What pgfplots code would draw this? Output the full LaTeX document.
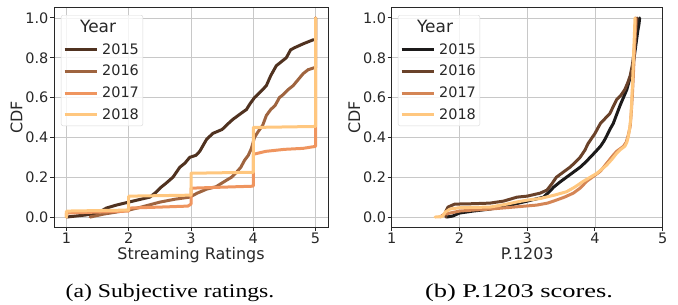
\documentclass[border=0pt]{standalone}
\usepackage{fontspec}
\setmainfont{DejaVu Sans}
\newfontfamily\capfont{Liberation Serif}
\usepackage{pgfplots}
\pgfplotsset{compat=1.18}

\definecolor{cA}{RGB}{80,50,32}
\definecolor{cB}{RGB}{159,100,63}
\definecolor{cC}{RGB}{239,149,95}
\definecolor{cD}{RGB}{255,199,127}
\definecolor{dA}{RGB}{28,26,26}
\definecolor{dB}{RGB}{106,66,42}
\definecolor{dC}{RGB}{212,133,85}
\definecolor{dD}{RGB}{255,199,127}
\definecolor{gridc}{RGB}{200,200,200}
\definecolor{spinec}{RGB}{40,40,40}

\pgfplotsset{mystyle/.style={
  scale only axis, height=219bp,
  ymin=-0.05, ymax=1.05, ytick={0,0.2,0.4,0.6,0.8,1.0},
  yticklabel style={/pgf/number format/.cd, fixed, fixed zerofill, precision=1},
  /pgf/number format/assume math mode=true,
  grid=major, grid style={color=gridc, line width=0.9bp},
  axis line style={line width=1bp, color=spinec},
  tick align=outside, tick pos=left, major tick length=4bp,
  tick style={spinec, line width=1bp},
  ticklabel style={font=\fontsize{14.5}{16}\selectfont, text=spinec, inner sep=1.5bp},
  label style={font=\fontsize{16}{18}\selectfont, text=spinec},
  ylabel={CDF},
  ylabel style={inner sep=1bp},
  xlabel style={inner sep=2.5bp},
  every axis plot/.append style={line width=3bp, line join=round, line cap=round},
  legend cell align=left,
  legend image code/.code={\draw[##1, line cap=butt] (0bp,0bp) -- (32bp,0bp);},
  legend style={anchor=north west, draw=black!15, rounded corners=2bp,
    fill=white, fill opacity=0.8, text opacity=1, text=spinec,
    font=\fontsize{14.5}{16}\selectfont, inner xsep=2bp, inner ysep=3bp,
    row sep=5.5bp, column sep=2bp},
}}

\begin{document}
\begin{tikzpicture}[x=1bp,y=1bp]
\path[use as bounding box] (0,0) rectangle (678,304);

\begin{axis}[mystyle, at={(54bp,77bp)}, anchor=south west, width=274bp,
  xmin=0.8, xmax=5.2, xtick={1,2,3,4,5}, xlabel={Streaming Ratings},
  legend style={at={(0.0255,0.968)}}]
\addlegendimage{empty legend}
\addplot[cA] coordinates {(1.0,0) (1.3,0.01) (1.5,0.02) (1.64,0.045) (1.8,0.06) (2.0,0.075) (2.2,0.09) (2.34,0.10) (2.44,0.125) (2.52,0.15) (2.6,0.17) (2.71,0.20) (2.82,0.25) (2.9,0.27) (2.98,0.30) (3.08,0.31) (3.14,0.33) (3.25,0.39) (3.35,0.42) (3.5,0.44) (3.6,0.47) (3.67,0.49) (3.8,0.52) (3.89,0.54) (3.95,0.57) (4.02,0.60) (4.12,0.63) (4.21,0.66) (4.28,0.71) (4.37,0.76) (4.45,0.78) (4.53,0.80) (4.6,0.84) (4.66,0.85) (4.8,0.87) (4.96,0.89) (5.0,0.89) (5.0,1.0)};
\addplot[cB] coordinates {(1.38,0) (1.6,0.015) (1.8,0.025) (2.0,0.035) (2.2,0.05) (2.5,0.075) (2.75,0.09) (2.98,0.10) (3.1,0.12) (3.25,0.14) (3.4,0.152) (3.57,0.185) (3.65,0.20) (3.73,0.225) (3.8,0.25) (3.86,0.285) (3.92,0.31) (3.97,0.345) (4.02,0.40) (4.08,0.43) (4.15,0.46) (4.21,0.51) (4.28,0.54) (4.35,0.56) (4.42,0.60) (4.48,0.615) (4.56,0.64) (4.64,0.66) (4.72,0.69) (4.8,0.72) (4.88,0.74) (4.98,0.75) (5.0,0.75) (5.0,1.0)};
\addplot[cC] coordinates {(1.0,0) (1.0,0.02) (1.5,0.025) (2.0,0.03) (2.0,0.045) (2.5,0.05) (2.95,0.055) (3.0,0.065) (3.0,0.145) (3.5,0.15) (4.0,0.155) (4.0,0.315) (4.2,0.33) (4.5,0.34) (4.8,0.345) (5.0,0.355) (5.0,1.0)};
\addplot[cD] coordinates {(1.0,0) (1.0,0.03) (2.0,0.035) (2.0,0.105) (3.0,0.11) (3.0,0.22) (4.0,0.225) (4.0,0.45) (5.0,0.455) (5.0,1.0)};
\legend{{\hspace*{-22bp}\fontsize{17}{19}\selectfont Year},2015,2016,2017,2018}
\end{axis}

\begin{axis}[mystyle, at={(391.7bp,77bp)}, anchor=south west, width=271bp,
  xmin=1, xmax=5, xtick={1,2,3,4,5}, xlabel={P.1203},
  legend style={at={(0.023,0.968)}}]
\addlegendimage{empty legend}
\addplot[dA] coordinates {(1.81,0) (1.9,0.005) (2.0,0.02) (2.2,0.03) (2.45,0.04) (2.75,0.06) (3.0,0.08) (3.24,0.10) (3.32,0.125) (3.39,0.15) (3.48,0.175) (3.58,0.20) (3.68,0.225) (3.78,0.25) (3.86,0.275) (3.93,0.30) (4.0,0.325) (4.08,0.355) (4.13,0.38) (4.17,0.405) (4.22,0.44) (4.27,0.47) (4.32,0.515) (4.37,0.56) (4.42,0.60) (4.47,0.64) (4.51,0.69) (4.54,0.73) (4.57,0.78) (4.59,0.83) (4.61,0.88) (4.63,0.93) (4.65,0.97) (4.66,1.0)};
\addplot[dB] coordinates {(1.8,0) (1.8,0.03) (1.83,0.05) (1.93,0.065) (2.2,0.067) (2.45,0.07) (2.65,0.08) (2.85,0.10) (3.0,0.105) (3.19,0.12) (3.29,0.135) (3.36,0.165) (3.43,0.20) (3.53,0.225) (3.63,0.25) (3.71,0.275) (3.78,0.30) (3.85,0.335) (3.9,0.37) (3.95,0.395) (4.0,0.42) (4.04,0.445) (4.08,0.47) (4.15,0.495) (4.22,0.52) (4.27,0.555) (4.32,0.59) (4.38,0.61) (4.44,0.64) (4.49,0.68) (4.52,0.71) (4.55,0.76) (4.57,0.81) (4.59,0.87) (4.6,0.93) (4.62,1.0)};
\addplot[dC] coordinates {(1.71,0) (1.78,0.015) (1.86,0.02) (2.0,0.03) (2.2,0.035) (2.45,0.04) (2.8,0.05) (3.14,0.06) (3.3,0.07) (3.43,0.085) (3.55,0.10) (3.68,0.12) (3.78,0.145) (3.88,0.18) (3.98,0.205) (4.08,0.23) (4.15,0.26) (4.22,0.29) (4.28,0.315) (4.32,0.33) (4.38,0.345) (4.42,0.355) (4.46,0.375) (4.49,0.41) (4.52,0.455) (4.535,0.52) (4.55,0.60) (4.565,0.70) (4.575,0.78) (4.585,0.86) (4.595,0.93) (4.6,1.0)};
\addplot[dD] coordinates {(1.64,0) (1.75,0.003) (1.79,0.025) (1.86,0.04) (2.0,0.047) (2.45,0.05) (2.7,0.065) (2.85,0.076) (3.0,0.085) (3.19,0.093) (3.4,0.11) (3.58,0.127) (3.7,0.15) (3.83,0.18) (3.93,0.20) (4.03,0.22) (4.1,0.24) (4.17,0.26) (4.25,0.29) (4.32,0.32) (4.38,0.34) (4.44,0.355) (4.47,0.375) (4.49,0.40) (4.51,0.44) (4.53,0.50) (4.545,0.60) (4.555,0.68) (4.565,0.77) (4.575,0.86) (4.585,0.94) (4.59,1.0)};
\legend{{\hspace*{-22bp}\fontsize{17}{19}\selectfont Year},2015,2016,2017,2018}
\end{axis}

\node[anchor=base, text=black] at (170,7) {\scalebox{1.22}[1]{\capfont\fontsize{19.5}{21}\selectfont (a) Subjective ratings.}};
\node[anchor=base, text=black] at (519,7) {\scalebox{1.36}[1]{\capfont\fontsize{19.5}{21}\selectfont (b) P.1203 scores.}};
\end{tikzpicture}
\end{document}
